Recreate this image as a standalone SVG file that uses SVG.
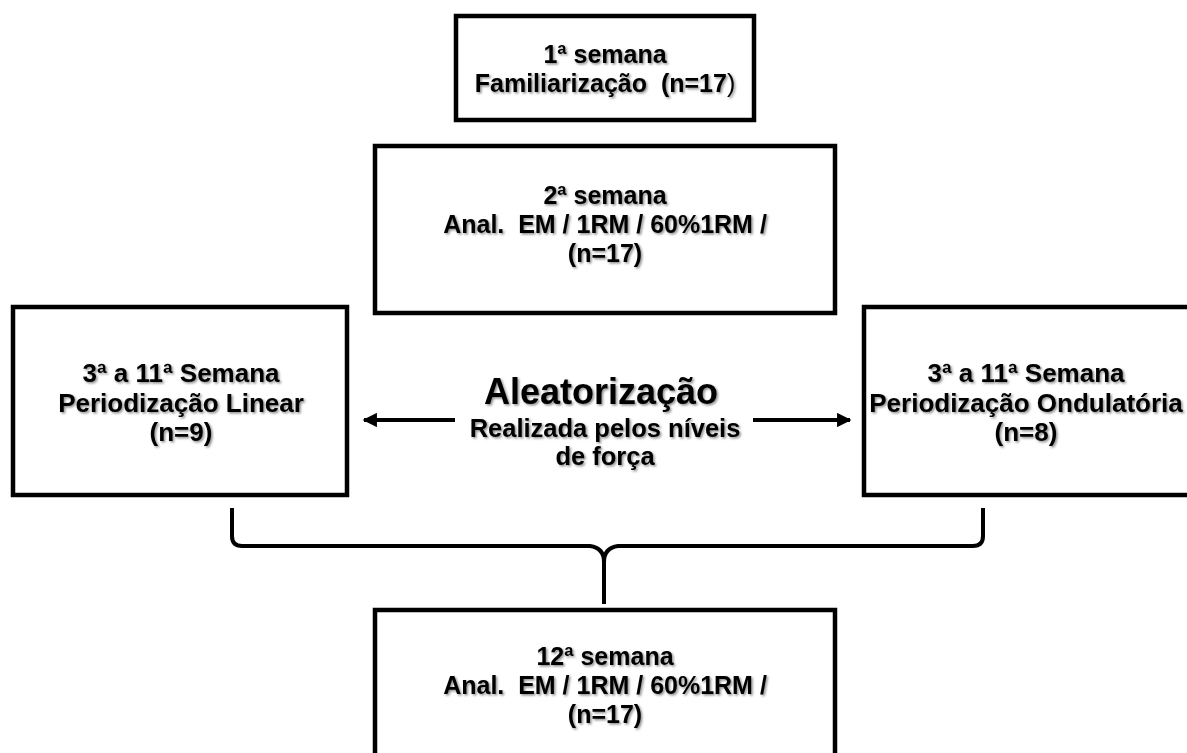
<svg xmlns="http://www.w3.org/2000/svg" width="1187" height="753" viewBox="0 0 1187 753">
<defs>
<style>
.box{fill:#fff;stroke:#000;stroke-width:4.5}
.t{font-family:"Liberation Sans",Arial,sans-serif;font-weight:bold;font-size:25px;fill:#000;text-anchor:middle;filter:url(#sh)}
.side{font-size:26px}
.big{font-size:36px}
.mid{font-size:25.5px}
.ln{fill:none;stroke:#000;stroke-width:4;stroke-linecap:butt;stroke-linejoin:round}
</style>
<filter id="sh" x="-10%" y="-30%" width="120%" height="160%">
<feDropShadow dx="1.5" dy="1.5" stdDeviation="1" flood-color="#000" flood-opacity="0.45"/>
</filter>
<marker id="ah" viewBox="0 0 10 10" refX="9" refY="5" markerWidth="4" markerHeight="3.6" orient="auto" markerUnits="strokeWidth">
<path d="M0,0 L10,5 L0,10 z" fill="#000"/>
</marker>
</defs>
<rect width="1187" height="753" fill="#fff"/>
<g id="connectors">
<line class="ln" x1="455" y1="420" x2="364" y2="420" marker-end="url(#ah)"/>
<line class="ln" x1="753" y1="420" x2="850" y2="420" marker-end="url(#ah)"/>
<path class="ln" d="M232,508 L232,536 Q232,546 242,546 L590,546 Q604,548 604,562 Q604,548 618,546 L973,546 Q983,546 983,536 L983,508"/>
<line class="ln" x1="604" y1="556" x2="604" y2="604"/>
</g>
<g id="n1">
<rect class="box" x="456" y="16" width="298" height="104"/>
<text class="t" x="605" y="63">1ª semana</text>
<text class="t" x="605" y="92" xml:space="preserve">Familiarização  (n=17<tspan font-weight="normal">)</tspan></text>
</g>
<g id="n2">
<rect class="box" x="375" y="146" width="460" height="167"/>
<text class="t" x="605" y="204">2ª semana</text>
<text class="t" x="605" y="233" xml:space="preserve">Anal.  EM / 1RM / 60%1RM /</text>
<text class="t" x="605" y="262">(n=17)</text>
</g>
<g id="n3">
<rect class="box" x="13" y="307" width="334" height="188"/>
<text class="t side" x="181" y="382">3ª a 11ª Semana</text>
<text class="t side" x="181" y="412">Periodização Linear</text>
<text class="t side" x="181" y="441">(n=9)</text>
</g>
<g id="n4">
<rect class="box" x="864" y="307" width="336" height="188"/>
<text class="t side" x="1026" y="382">3ª a 11ª Semana</text>
<text class="t side" x="1026" y="412">Periodização Ondulatória</text>
<text class="t side" x="1026" y="441">(n=8)</text>
</g>
<g id="center">
<text class="t big" x="601" y="404">Aleatorização</text>
<text class="t mid" x="605" y="437">Realizada pelos níveis</text>
<text class="t mid" x="605" y="465">de força</text>
</g>
<g id="n5">
<rect class="box" x="375" y="610" width="460" height="170"/>
<text class="t" x="605" y="665">12ª semana</text>
<text class="t" x="605" y="694" xml:space="preserve">Anal.  EM / 1RM / 60%1RM /</text>
<text class="t" x="605" y="723">(n=17)</text>
</g>
</svg>
